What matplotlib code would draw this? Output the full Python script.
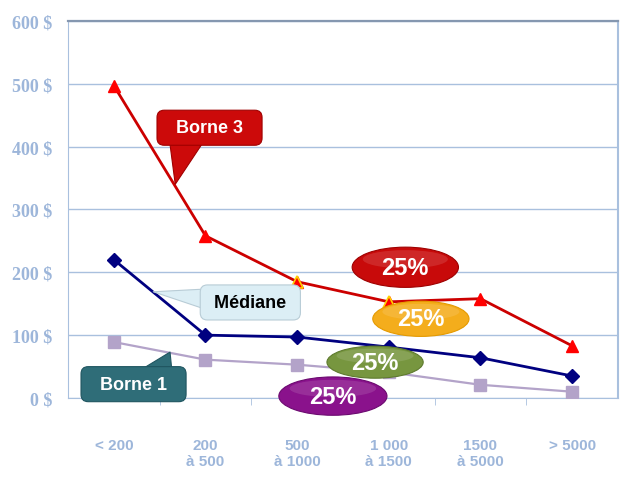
import matplotlib.pyplot as plt
from matplotlib.patches import Ellipse

# tranches et valeurs des trois courbes
categories = ['< 200', '200\nà 500', '500\nà 1000', '1 000\nà 1500', '1500\nà 5000', '> 5000']
borne3 = [497, 258, 185, 153, 158, 83]
mediane = [220, 100, 97, 81, 64, 35]
borne1 = [89, 61, 53, 41, 21, 10]
yticks = [0, 100, 200, 300, 400, 500, 600]
ylabels = ['%d $' % v for v in yticks]

bleu = '#9db6da'
grille = '#a9c0de'

fig = plt.figure(figsize=(6.2, 4.81), dpi=100)
ax = fig.add_axes([0.1097, 0.1705, 0.887, 0.784])
x = range(len(categories))

ax.plot(x, borne1, c='#b3a3c9', lw=1.6, marker='s', ms=9, zorder=3)
ax.plot(x, mediane, c='#000080', lw=2, marker='D', ms=7, zorder=3)
ax.plot(x, borne3, c='#cc0000', lw=2, marker='^', ms=9, mfc='#ff0000', mec='#ff0000', zorder=3)
ax.plot(x, borne3, ls='none', marker='^', ms=9, mfc='#ff0000', mec='#ffd000', mew=1.2,
        markevery=[2, 3], zorder=3)

ax.set_xlim(-0.5, 5.5)
ax.set_ylim(0, 600)
ax.set_yticks(yticks)
ax.set_yticklabels(ylabels, family='Liberation Serif', fontweight='bold', fontsize=13, color=bleu)
ax.set_xticks(list(x))
ax.set_xticklabels(categories, family='Liberation Sans', fontweight='bold', fontsize=11,
                   color=bleu, va='top', linespacing=1.2)
ax.tick_params(axis='y', length=0, pad=11)
ax.tick_params(axis='x', which='major', length=0, pad=29)
ax.set_xticks([i + 0.5 for i in range(5)], minor=True)
ax.tick_params(axis='x', which='minor', length=5, color=grille, direction='out')
ax.grid(axis='y', color=grille, lw=1)
ax.set_axisbelow(True)
for s in ['left', 'bottom', 'right']:
    ax.spines[s].set_color(grille)
ax.spines['right'].set_linewidth(1.5)
ax.spines['top'].set_color('#8597b0')
ax.spines['top'].set_linewidth(1.6)


def bulle(texte, pointe, centre, fc, ec, couleur, relpos, largeur):
    # rectangle arrondi avec une queue en pointe vers la courbe
    ax.annotate(texte, xy=pointe, xytext=centre, ha='center', va='center',
                fontsize=13, fontweight='bold', color=couleur, family='Liberation Sans',
                zorder=6, annotation_clip=False,
                bbox=dict(boxstyle='round,pad=0.5,rounding_size=0.4', fc=fc, ec=ec, lw=0.8),
                arrowprops=dict(arrowstyle='wedge,tail_width=%s,shrink_factor=0.5' % largeur,
                                fc=fc, ec=ec, lw=0.8, relpos=relpos, patchA=None,
                                shrinkA=0, shrinkB=0))


bulle('  Borne 3  ', (0.67, 340), (1.044, 430), '#cc0a0a', '#a00000', 'white', (0.25, 0.35), 2.3)
bulle(' Médiane ', (0.43, 169), (1.489, 152), '#dceef5', '#b8ccd6', 'black', (0.12, 0.6), 1.4)
bulle('  Borne 1  ', (0.613, 73), (0.215, 22), '#2f6d78', '#1f5560', 'white', (0.75, 0.65), 2.3)

# ovales 25%
ovales = [
    (3.18, 208, 1.16, 64, '#c80a0a', '#9e0000'),
    (3.35, 126, 1.05, 56, '#f4ad1c', '#e59a00'),
    (2.85, 57, 1.05, 51, '#77963f', '#5e7a2e'),
    (2.39, 3, 1.18, 61, '#8a128c', '#6c0a70'),
]
for cx, cy, w, h, fc, ec in ovales:
    ax.add_patch(Ellipse((cx, cy), w, h, fc=fc, ec=ec, lw=0.8, zorder=5, clip_on=False))
    ax.add_patch(Ellipse((cx, cy + h * 0.2), w * 0.8, h * 0.45, fc='white', ec='none',
                         alpha=0.12, zorder=5, clip_on=False))
    ax.text(cx, cy, '25%', ha='center', va='center', fontsize=17, fontweight='bold',
            color='white', family='Liberation Sans', zorder=7, clip_on=False)

fig.savefig('out.png', dpi=100)
